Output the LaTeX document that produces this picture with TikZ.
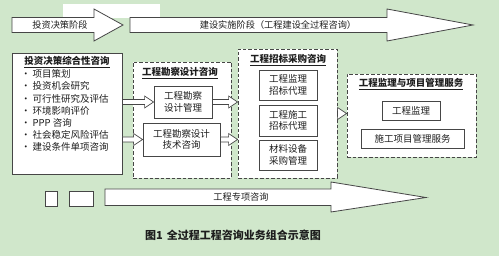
\documentclass[tikz,border=0pt]{standalone}
\usepackage{fontspec}
\setmainfont{Noto Sans CJK SC}
\usetikzlibrary{calc}
\definecolor{bg}{RGB}{208,231,203}
\definecolor{ln}{RGB}{70,70,70}
\definecolor{tx}{RGB}{30,30,30}
\newcommand\hollowarrow[2]{\draw[harrow] let \p1=(#1), \p2=(#2) in (\x1,\y1+2.5pt) -- (\x2-9pt,\y1+2.5pt) -- (\x2-9pt,\y1+6pt) -- (\x2,\y1) -- (\x2-9pt,\y1-6pt) -- (\x2-9pt,\y1-2.5pt) -- (\x1,\y1-2.5pt) -- cycle;}
\begin{document}
\begin{tikzpicture}[x=1pt,y=-1pt,
  font=\fontsize{9.5}{11.5}\selectfont, text=tx,
  box/.style={draw=ln, line width=0.8pt, fill=white, inner sep=0pt, align=center},
  group/.style={draw=ln, line width=0.8pt, fill=white, dash pattern=on 3.5pt off 2pt, inner sep=0pt},
  bigarrow/.style={draw=ln, line width=0.8pt, fill=white},
  harrow/.style={draw=ln, line width=0.7pt, fill=white},
  title/.style={font=\fontsize{9.5}{11.5}\selectfont\bfseries, inner sep=0pt},
  arrowtext/.style={font=\fontsize{9.2}{11}\selectfont, inner sep=0pt}]
\fill[bg] (0,0) rectangle (499,256);
\useasboundingbox (0,0) rectangle (499,256);
% white patch at top
\fill[white] (63,4) rectangle (160,18);
% big stage arrows
\draw[bigarrow] (12,17.5) -- (94,17.5) -- (94,9) -- (123,25) -- (94,41) -- (94,32.5) -- (12,32.5) -- cycle;
\node[arrowtext] (t1) at (60,25) {投资决策阶段};
\draw[bigarrow] (130,17.5) -- (387,17.5) -- (387,9) -- (473,25) -- (387,41) -- (387,32.5) -- (130,32.5) -- cycle;
\node[arrowtext] (t2) at (278,25) {建设实施阶段（工程建设全过程咨询）};
\draw[bigarrow] (105,189) -- (331,189) -- (331,182) -- (426,197.5) -- (331,212) -- (331,205.5) -- (105,205.5) -- cycle;
\node[arrowtext] (t3) at (241,197.5) {工程专项咨询};
% small squares
\node[box, minimum width=12pt, minimum height=15pt] (s1) at (51,198.5) {};
\node[box, minimum width=24pt, minimum height=15pt] (s2) at (81,198.5) {};
% left box
\node[box, minimum width=110pt, minimum height=121pt] (L) at (67,113.5) {};
\node[title] (Lt) at (67,62) {\underline{投资决策综合性咨询}};
\foreach \t [count=\i] in {项目策划, 投资机会研究, 可行性研究及评估, 环境影响评价, PPP 咨询, 社会稳定风险评估, 建设条件单项咨询}
  \node[anchor=west, inner sep=0pt] (item\i) at (21,{74+12.2*(\i-1)}) {·\hspace{2pt}\t};
% group 2
\node[group, minimum width=98pt, minimum height=116pt] (G2) at (182,120) {};
\node[title] (G2t) at (180,73) {\underline{工程勘察设计咨询}};
\node[box, minimum width=58pt, minimum height=32pt] (B1) at (183,102) {工程勘察\\设计管理};
\node[box, minimum width=77pt, minimum height=33pt] (B2) at (181.5,139.5) {工程勘察设计\\技术咨询};
% group 3
\node[group, minimum width=99pt, minimum height=129pt] (G3) at (287.5,113.5) {};
\node[title] (G3t) at (288,60) {\underline{工程招标采购咨询}};
\node[box, minimum width=58pt, minimum height=30pt] (C1) at (288,85) {工程监理\\招标代理};
\node[box, minimum width=58pt, minimum height=31pt] (C2) at (288,120.5) {工程施工\\招标代理};
\node[box, minimum width=58pt, minimum height=30pt] (C3) at (288,155) {材料设备\\采购管理};
% group 4
\node[group, minimum width=129pt, minimum height=83pt] (G4) at (411.5,115.5) {};
\node[title] (G4t) at (411,84) {\underline{工程监理与项目管理服务}};
\node[box, minimum width=58pt, minimum height=19pt] (D1) at (411,110.5) {工程监理};
\node[box, minimum width=103pt, minimum height=19pt] (D2) at (412.5,138.5) {施工项目管理服务};
% hollow connectors
\hollowarrow{L.east|-B1.west}{B1.west}
\hollowarrow{L.east|-B2.west}{B2.west}
\hollowarrow{B1.east}{G3.west|-B1.east}
\hollowarrow{B2.east}{G3.west|-B2.east}
\hollowarrow{G3.east}{G4.west|-G3.east}
% caption
\node[font=\fontsize{11}{13}\selectfont\bfseries, inner sep=0pt] (cap) at (233,235) {图1\hspace{4pt}全过程工程咨询业务组合示意图};
\end{tikzpicture}
\end{document}
